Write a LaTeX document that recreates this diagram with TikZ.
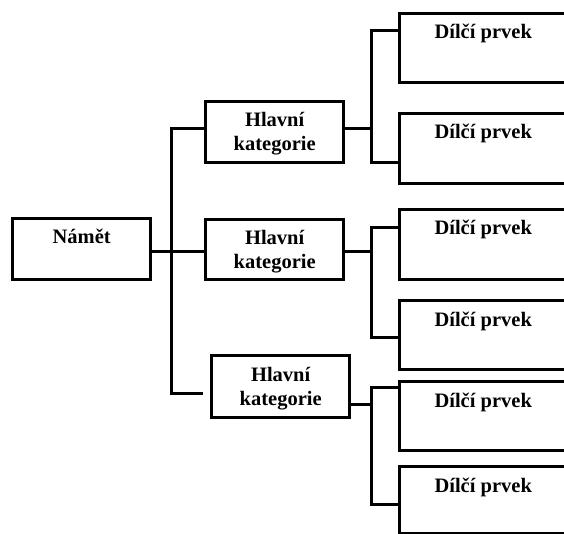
\documentclass[tikz,border=0pt]{standalone}
\usepackage{fontspec}
\setmainfont{Liberation Serif}
\begin{document}
\begin{tikzpicture}[x=1pt,y=-1pt,
  box/.style={draw=black,line width=3.4pt,fill=white,rectangle,inner sep=0pt},
  boxtext/.style={font=\fontsize{20.5}{24}\selectfont\bfseries,align=center,anchor=base,inner sep=0pt},
  link/.style={draw=black,line width=3pt,line join=miter}]
  \useasboundingbox (0,0) rectangle (564,534);
  \clip (0,0) rectangle (564,534);

  % topic box
  \node[box,minimum width=138pt,minimum height=61pt,anchor=north west] (nam) at (11,217) {};
  % main categories
  \node[box,minimum width=138pt,minimum height=61pt,anchor=north west] (m1) at (204,100) {};
  \node[box,minimum width=138pt,minimum height=60pt,anchor=north west] (m2) at (204,218) {};
  \node[box,minimum width=138pt,minimum height=62pt,anchor=north west] (m3) at (210,354) {};
  % sub items (running past the right edge)
  \node[box,minimum width=175pt,minimum height=69pt,anchor=north west] (d1) at (398,12) {};
  \node[box,minimum width=175pt,minimum height=70pt,anchor=north west] (d2) at (398,112) {};
  \node[box,minimum width=175pt,minimum height=70pt,anchor=north west] (d3) at (398,208) {};
  \node[box,minimum width=175pt,minimum height=69pt,anchor=north west] (d4) at (398,299) {};
  \node[box,minimum width=175pt,minimum height=69pt,anchor=north west] (d5) at (398,380) {};
  \node[box,minimum width=175pt,minimum height=67pt,anchor=north west] (d6) at (398,465) {};

  % texts (multi-line nodes sit on the baseline of their last line)
  \node[boxtext] (tnam) at ([yshift=-27pt]nam.north) {Námět};
  \node[boxtext] (tm1) at ([yshift=-51pt]m1.north) {Hlavní\\kategorie};
  \node[boxtext] (tm2) at ([yshift=-51pt]m2.north) {Hlavní\\kategorie};
  \node[boxtext] (tm3) at ([yshift=-51pt]m3.north) {Hlavní\\kategorie};
  \node[boxtext] (td1) at ([xshift=-4pt,yshift=-27pt]d1.north) {Dílčí prvek};
  \node[boxtext] (td2) at ([xshift=-4pt,yshift=-27pt]d2.north) {Dílčí prvek};
  \node[boxtext] (td3) at ([xshift=-4pt,yshift=-27pt]d3.north) {Dílčí prvek};
  \node[boxtext] (td4) at ([xshift=-4pt,yshift=-27pt]d4.north) {Dílčí prvek};
  \node[boxtext] (td5) at ([xshift=-4pt,yshift=-27pt]d5.north) {Dílčí prvek};
  \node[boxtext] (td6) at ([xshift=-4pt,yshift=-27pt]d6.north) {Dílčí prvek};

  % trunk joints
  \coordinate (t1) at (171,129);
  \coordinate (t2) at (171,252);
  \coordinate (t3) at (171,393);
  \coordinate (e3) at (203,393);
  % bracket joints
  \coordinate (b1a) at (371,31);
  \coordinate (b1b) at (371,163);
  \coordinate (b1m) at (371,129);
  \coordinate (b2a) at (371,228);
  \coordinate (b2b) at (371,337);
  \coordinate (b2m) at (371,252);
  \coordinate (b3a) at (371,387);
  \coordinate (b3b) at (371,504);
  \coordinate (b3m) at (371,404);

  % topic to main categories
  \draw[link] (m1.west |- t1) -- (t1) -- (t3) -- (e3);
  \draw[link] (nam.east |- t2) -- (m2.west |- t2);
  % main categories to sub items
  \draw[link] (m1.east |- b1m) -- (b1m);
  \draw[link] (d1.west |- b1a) -- (b1a) -- (b1b) -- (d2.west |- b1b);
  \draw[link] (m2.east |- b2m) -- (b2m);
  \draw[link] (d3.west |- b2a) -- (b2a) -- (b2b) -- (d4.west |- b2b);
  \draw[link] (m3.east |- b3m) -- (b3m);
  \draw[link] (d5.west |- b3a) -- (b3a) -- (b3b) -- (d6.west |- b3b);
\end{tikzpicture}
\end{document}
